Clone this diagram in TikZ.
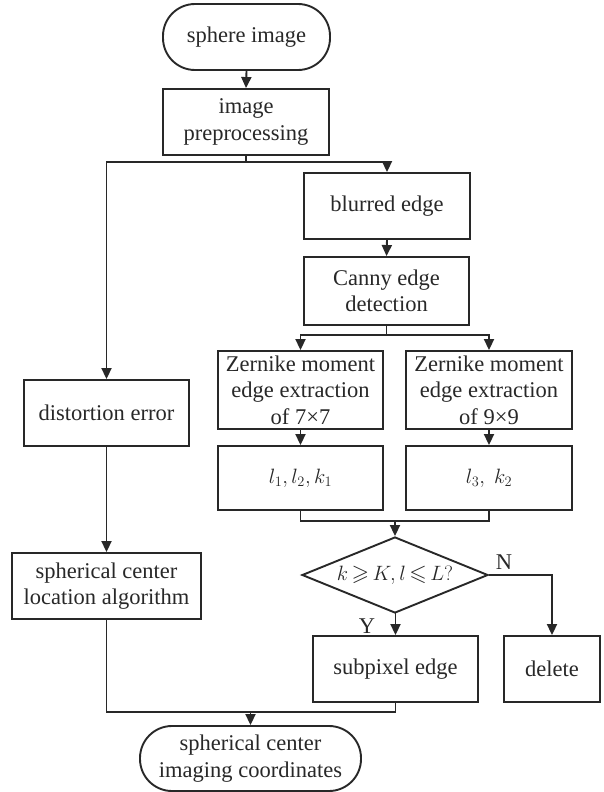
\documentclass[tikz,border=0pt]{standalone}
\usepackage{amssymb}
\usepackage{fontspec}
\setmainfont{Liberation Serif}
\usetikzlibrary{arrows.meta,shapes.geometric}
\definecolor{ink}{RGB}{40,40,40}
\tikzset{
  base/.style={draw=ink, line width=1.9pt, text=ink, inner sep=0pt, align=center,
    font=\fontsize{22.5}{26.5}\selectfont},
  procbox/.style={base, rectangle},
  termbox/.style={base, rectangle, rounded corners=32pt},
  conn/.style={draw=ink, line width=1.9pt},
  arr/.style={conn, -{Triangle[length=11pt,width=10pt]}},
  lbl/.style={text=ink, font=\fontsize{22.5}{26.5}\selectfont, inner sep=0pt}
}
\begin{document}
\begin{tikzpicture}[x=1pt,y=-1pt]
\useasboundingbox[fill=white] (0,0) rectangle (603,792);

\node[termbox, minimum width=167pt, minimum height=66pt] (start) at (246.5,37) {sphere image};
\node[procbox, minimum width=166pt, minimum height=66pt] (prep) at (246,122) {image\\preprocessing};
\node[procbox, minimum width=166pt, minimum height=66pt] (blur) at (387,206) {blurred edge};
\node[procbox, minimum width=165pt, minimum height=68pt] (canny) at (386.5,291) {Canny edge\\detection};
\node[procbox, minimum width=165pt, minimum height=78pt] (z1) at (300.5,390) {Zernike moment\\edge extraction\\of 7×7};
\node[procbox, minimum width=166pt, minimum height=78pt] (z2) at (489,390) {Zernike moment\\edge extraction\\of 9×9};
\node[procbox, minimum width=165pt, minimum height=64pt] (l1) at (300.5,478) {$l_1, l_2, k_1$};
\node[procbox, minimum width=166pt, minimum height=64pt] (l2) at (489,478) {$l_3,\ k_2$};
\node[base, diamond, minimum width=186pt, minimum height=76pt, inner sep=0pt] (dec) at (395,575) {};
\node[lbl] (dectext) at (395,575) {$k{\,\geqslant\,}K, l{\,\leqslant\,}L?$};
\node[procbox, minimum width=165pt, minimum height=66pt] (sub) at (395.5,669) {subpixel edge};
\node[procbox, minimum width=96pt, minimum height=66pt] (del) at (552,669) {delete};
\node[procbox, minimum width=165pt, minimum height=66pt] (dist) at (106.5,413) {distortion error};
\node[procbox, minimum width=189pt, minimum height=66pt] (loc) at (106.5,586) {spherical center\\location algorithm};
\node[termbox, minimum width=221pt, minimum height=65pt] (end) at (250.5,758.5) {spherical center\\imaging coordinates};

\coordinate (s1) at (246,162);
\coordinate (s2) at (386.5,335);
\coordinate (m) at (395,521);
\coordinate (j) at (250.5,712);

\draw[arr] (start.south) -- (prep.north);
\draw[conn] (prep.south) -- (s1);
\draw[arr] (s1) -| (blur.north);
\draw[arr] (s1) -| (dist.north);
\draw[arr] (blur.south) -- (canny.north);
\draw[conn] (canny.south) -- (s2);
\draw[arr] (s2) -| (z1.north);
\draw[arr] (s2) -| (z2.north);
\draw[arr] (z1.south) -- (l1.north);
\draw[arr] (z2.south) -- (l2.north);
\draw[conn] (l1.south) |- (m) -| (l2.south);
\draw[arr] (m) -- (dec.north);
\draw[arr] (dec.south) -- (sub.north |- dec.south) -- (sub.north);
\draw[arr] (dec.east) -| (del.north);
\node[lbl] (ylab) at (367,626) {Y};
\node[lbl] (nlab) at (504,562) {N};
\draw[arr] (dist.south) -- (loc.north);
\draw[conn] (loc.south) |- (sub.south |- j) -- (sub.south);
\draw[arr] (j) -- (end.north);
\end{tikzpicture}
\end{document}
